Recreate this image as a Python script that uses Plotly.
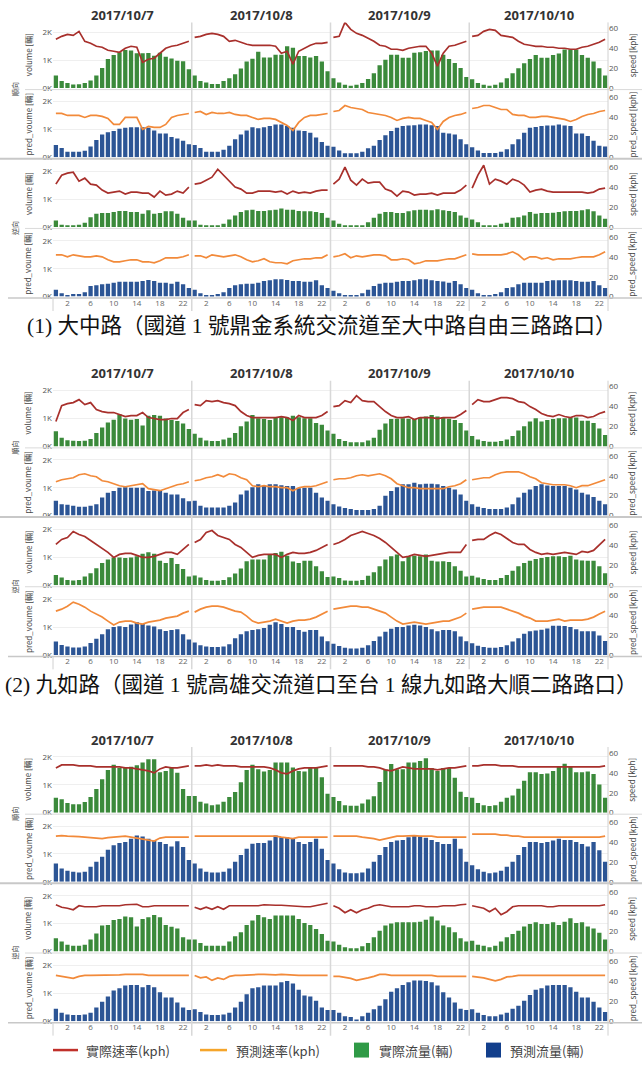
import plotly.graph_objects as go

W, H = 642, 1070

# ---------------------------------------------------------------- labels
dates = ["2017/10/7", "2017/10/8", "2017/10/9", "2017/10/10"]
hours = list(range(24))
tick_hours = [2, 6, 10, 14, 18, 22]
vol_tick_vals = [0, 1000, 2000]
vol_tick_text = ["0K", "1K", "2K"]
spd_tick_vals = [0, 20, 40, 60]
directions = ["順向", "逆向"]
vol_titles = ["volume [輛]", "pred_voume [輛]"]
spd_titles = ["speed [kph]", "pred_speed [kph]"]
captions = [
    "(1) 大中路（國道 1 號鼎金系統交流道至大中路自由三路路口）",
    "(2) 九如路（國道 1 號高雄交流道口至台 1 線九如路大順二路路口）",
]
legend_labels = ["實際速率(kph)", "預測速率(kph)", "實際流量(輛)", "預測流量(輛)"]

# ---------------------------------------------------------------- 大中路
dazhong_fwd_volume = [
    [450, 250, 180, 130, 140, 180, 270, 450, 720, 1040, 1190, 1290, 1370, 1350, 1250, 1250, 1260, 1160, 1270, 1120, 1060, 980, 960, 680],
    [450, 250, 200, 150, 150, 250, 350, 500, 700, 950, 1050, 1300, 1100, 1100, 1200, 1200, 1500, 1450, 1150, 1150, 1100, 1150, 950, 600],
    [350, 200, 120, 80, 120, 180, 330, 530, 820, 1020, 1200, 1200, 1090, 1090, 1270, 1290, 1330, 1350, 1350, 1200, 1040, 900, 720, 400],
    [320, 180, 120, 80, 120, 200, 350, 530, 710, 890, 1040, 1190, 1090, 1090, 1190, 1240, 1380, 1380, 1380, 1190, 1090, 950, 710, 450],
]
dazhong_fwd_speed = [
    [49, 52, 54, 53, 57, 47, 45, 42, 41, 38, 37, 36, 40, 42, 41, 26, 29, 30, 35, 40, 42, 43, 45, 47],
    [51, 52, 54, 55, 54, 52, 47, 48, 46, 44, 43, 43, 43, 43, 42, 35, 37, 24, 37, 40, 43, 45, 45, 46],
    [51, 52, 66, 59, 55, 53, 50, 47, 43, 42, 39, 39, 38, 40, 41, 42, 42, 35, 22, 35, 42, 43, 45, 47],
    [52, 53, 57, 59, 58, 53, 52, 51, 47, 44, 43, 42, 42, 41, 41, 40, 40, 39, 39, 41, 42, 44, 46, 49],
]
dazhong_fwd_pred_volume = [
    [440, 330, 200, 200, 200, 230, 390, 620, 820, 900, 940, 1020, 1060, 1080, 1080, 1080, 1060, 960, 850, 850, 730, 670, 590, 470],
    [440, 330, 200, 200, 200, 270, 410, 650, 820, 960, 1080, 1040, 1080, 1120, 1180, 1180, 1120, 1060, 960, 940, 880, 710, 550, 410],
    [380, 240, 140, 140, 140, 200, 320, 410, 620, 790, 940, 1060, 1120, 1140, 1150, 1180, 1180, 1150, 1120, 880, 850, 820, 650, 470],
    [360, 240, 150, 150, 150, 200, 290, 470, 650, 880, 1060, 1090, 1120, 1140, 1140, 1180, 1140, 1120, 850, 850, 760, 590, 410, 390],
]
dazhong_fwd_pred_speed = [
    [44, 44, 42, 42, 42, 40, 42, 42, 41, 39, 33, 33, 40, 40, 40, 28, 31, 30, 30, 33, 40, 42, 43, 44],
    [45, 46, 43, 45, 44, 44, 45, 43, 42, 42, 40, 38, 39, 39, 38, 35, 32, 27, 35, 40, 42, 42, 43, 44],
    [46, 47, 52, 50, 49, 48, 45, 44, 43, 42, 40, 37, 39, 40, 39, 39, 37, 35, 28, 36, 40, 42, 43, 45],
    [49, 50, 52, 52, 50, 48, 48, 43, 42, 42, 40, 40, 41, 41, 40, 39, 38, 36, 38, 41, 43, 44, 46, 47],
]
dazhong_rev_volume = [
    [230, 75, 50, 50, 75, 150, 350, 470, 500, 500, 540, 570, 570, 540, 540, 470, 600, 470, 500, 560, 560, 470, 330, 230],
    [230, 75, 25, 25, 50, 110, 270, 410, 540, 600, 620, 570, 570, 600, 620, 660, 620, 620, 570, 560, 560, 540, 500, 330],
    [230, 110, 25, 25, 25, 50, 170, 330, 470, 540, 540, 500, 500, 560, 600, 620, 620, 600, 630, 600, 570, 540, 410, 330],
    [270, 170, 50, 25, 50, 110, 150, 330, 350, 410, 540, 470, 500, 500, 510, 540, 560, 570, 570, 600, 630, 560, 410, 290],
]
dazhong_rev_speed = [
    [43, 52, 54, 55, 46, 49, 43, 42, 37, 34, 35, 36, 33, 35, 35, 34, 34, 30, 36, 32, 33, 36, 34, 40],
    [43, 44, 47, 50, 58, 52, 45, 40, 38, 34, 34, 36, 36, 36, 35, 36, 33, 36, 34, 35, 34, 36, 37, 37],
    [43, 48, 60, 47, 42, 48, 44, 45, 45, 38, 36, 31, 36, 35, 32, 33, 33, 34, 32, 34, 34, 34, 37, 42],
    [39, 52, 62, 43, 48, 46, 43, 48, 46, 42, 35, 37, 38, 36, 35, 35, 35, 35, 35, 35, 34, 35, 38, 39],
]
dazhong_rev_pred_volume = [
    [250, 125, 60, 90, 90, 160, 380, 410, 440, 460, 500, 530, 530, 530, 530, 560, 600, 560, 500, 500, 460, 530, 440, 310],
    [250, 125, 60, 60, 90, 160, 310, 410, 440, 460, 460, 500, 560, 590, 620, 620, 600, 560, 560, 530, 530, 590, 410, 310],
    [210, 125, 60, 60, 60, 125, 250, 380, 460, 500, 500, 530, 560, 560, 590, 620, 620, 590, 560, 540, 500, 560, 440, 310],
    [250, 125, 60, 60, 90, 160, 310, 340, 440, 500, 500, 500, 500, 560, 590, 590, 590, 590, 560, 530, 530, 560, 410, 310],
]
dazhong_rev_pred_speed = [
    [42, 42, 40, 42, 41, 40, 40, 41, 40, 37, 35, 35, 36, 37, 37, 35, 35, 34, 36, 39, 39, 39, 40, 42],
    [41, 41, 39, 42, 41, 40, 41, 42, 40, 37, 35, 36, 38, 35, 34, 34, 33, 36, 37, 38, 38, 39, 39, 42],
    [40, 41, 43, 39, 41, 40, 41, 42, 42, 41, 37, 37, 38, 37, 33, 34, 36, 36, 36, 37, 38, 38, 40, 42],
    [43, 42, 42, 42, 42, 42, 43, 45, 42, 37, 40, 40, 38, 39, 37, 38, 38, 38, 39, 40, 40, 40, 42, 45],
]

# ---------------------------------------------------------------- 九如路
jiuru_fwd_volume = [
    [540, 310, 220, 200, 190, 200, 270, 480, 680, 860, 960, 1150, 1000, 960, 980, 750, 1100, 1130, 1100, 1000, 950, 910, 820, 620],
    [450, 310, 210, 190, 190, 250, 310, 480, 720, 890, 1130, 1010, 980, 950, 1050, 1050, 1050, 1100, 1050, 1010, 1010, 840, 780, 570],
    [450, 270, 190, 150, 150, 150, 210, 310, 600, 820, 980, 990, 1010, 990, 980, 1040, 1070, 1130, 1070, 1040, 990, 950, 840, 570],
    [370, 250, 190, 170, 170, 190, 250, 370, 570, 720, 890, 1010, 890, 950, 980, 1010, 1010, 1040, 1040, 920, 920, 840, 640, 410],
]
jiuru_fwd_speed = [
    [25, 41, 43, 44, 47, 42, 44, 37, 35, 34, 34, 32, 30, 31, 31, 34, 29, 28, 27, 27, 28, 28, 34, 37],
    [42, 41, 46, 45, 46, 44, 43, 41, 35, 31, 29, 29, 29, 29, 29, 30, 29, 26, 31, 29, 29, 29, 31, 35],
    [40, 41, 46, 44, 51, 46, 45, 45, 40, 35, 31, 29, 29, 30, 27, 29, 29, 29, 28, 29, 29, 29, 32, 36],
    [42, 47, 45, 45, 47, 49, 49, 48, 45, 44, 40, 37, 33, 31, 30, 32, 30, 29, 31, 31, 29, 30, 33, 35],
]
jiuru_fwd_pred_volume = [
    [530, 410, 390, 350, 320, 320, 350, 410, 650, 820, 880, 1000, 1020, 1000, 1000, 1000, 880, 900, 900, 820, 760, 760, 620, 510],
    [530, 350, 290, 290, 290, 290, 350, 470, 760, 900, 1020, 1120, 1060, 1120, 1120, 1090, 1060, 1060, 980, 1000, 1000, 820, 650, 530],
    [410, 330, 270, 240, 200, 200, 200, 240, 350, 710, 880, 1020, 1120, 1120, 1180, 1120, 1140, 1140, 1120, 1060, 1000, 940, 760, 530],
    [410, 320, 270, 240, 240, 240, 290, 410, 650, 820, 940, 1060, 1120, 1080, 1060, 1060, 1060, 1000, 940, 820, 760, 670, 530, 410],
]
jiuru_fwd_pred_speed = [
    [34, 36, 37, 38, 41, 42, 40, 39, 35, 34, 32, 30, 29, 30, 31, 32, 27, 26, 25, 27, 29, 31, 32, 34],
    [35, 36, 38, 39, 41, 39, 42, 41, 38, 36, 30, 29, 30, 29, 29, 28, 28, 25, 28, 29, 29, 30, 32, 34],
    [36, 37, 37, 38, 40, 41, 40, 41, 42, 40, 37, 32, 30, 28, 28, 27, 27, 27, 27, 27, 29, 30, 32, 36],
    [36, 37, 38, 38, 41, 43, 44, 44, 44, 42, 39, 37, 33, 32, 31, 31, 31, 30, 28, 30, 30, 32, 34, 36],
]
jiuru_rev_volume = [
    [370, 280, 190, 170, 190, 310, 430, 610, 800, 920, 1000, 1000, 980, 1000, 1040, 1130, 1180, 1130, 880, 800, 980, 760, 580, 310],
    [350, 280, 190, 160, 160, 190, 290, 420, 600, 860, 920, 920, 920, 1100, 1160, 1200, 1060, 850, 800, 880, 880, 680, 500, 300],
    [310, 260, 170, 160, 160, 190, 340, 470, 680, 920, 1040, 1100, 860, 1040, 1060, 1040, 1100, 880, 850, 860, 830, 680, 520, 310],
    [340, 280, 220, 190, 190, 260, 370, 520, 680, 800, 880, 940, 980, 1010, 1040, 1040, 1010, 1060, 920, 890, 880, 880, 680, 430],
]
jiuru_rev_speed = [
    [41, 46, 48, 54, 51, 49, 45, 41, 37, 33, 28, 31, 32, 32, 30, 28, 28, 29, 31, 33, 33, 31, 36, 41],
    [43, 46, 53, 55, 50, 48, 46, 41, 38, 33, 28, 30, 31, 31, 31, 28, 31, 33, 32, 32, 33, 35, 38, 41],
    [41, 43, 46, 50, 52, 54, 52, 50, 47, 43, 38, 33, 28, 29, 31, 30, 29, 30, 31, 32, 33, 33, 33, 41],
    [45, 46, 46, 50, 53, 51, 47, 43, 41, 41, 36, 33, 31, 32, 31, 32, 33, 32, 31, 34, 33, 35, 41, 46],
]
jiuru_rev_pred_volume = [
    [480, 360, 300, 270, 270, 300, 430, 580, 740, 920, 1000, 1030, 1000, 1090, 1170, 1110, 1060, 1020, 920, 860, 890, 920, 740, 550],
    [450, 350, 300, 280, 280, 300, 380, 600, 740, 850, 890, 920, 970, 1080, 1170, 1110, 1000, 1000, 890, 830, 890, 890, 660, 490],
    [400, 320, 260, 230, 230, 260, 350, 500, 660, 830, 940, 1000, 1000, 1060, 1080, 1060, 1000, 920, 850, 890, 890, 850, 660, 490],
    [420, 330, 280, 260, 260, 280, 350, 480, 600, 760, 850, 880, 900, 950, 1050, 1050, 1040, 1000, 920, 850, 850, 850, 700, 500],
]
jiuru_rev_pred_speed = [
    [44, 46, 49, 53, 51, 48, 44, 41, 38, 34, 30, 33, 34, 34, 32, 31, 33, 34, 35, 37, 38, 39, 42, 44],
    [43, 46, 48, 49, 49, 48, 46, 44, 43, 39, 34, 32, 33, 34, 36, 34, 32, 34, 35, 35, 36, 38, 41, 44],
    [46, 47, 48, 49, 49, 48, 48, 46, 44, 42, 38, 34, 31, 32, 33, 32, 31, 32, 33, 34, 34, 36, 38, 42],
    [46, 47, 48, 48, 48, 48, 46, 44, 42, 39, 37, 34, 34, 34, 35, 36, 34, 35, 35, 35, 36, 38, 41, 44],
]

# ---------------------------------------------------------------- 第三路段
road3_fwd_volume = [
    [540, 480, 350, 300, 300, 380, 560, 850, 1200, 1530, 1720, 1600, 1600, 1650, 1700, 1800, 1920, 1920, 1450, 1500, 1620, 1430, 850, 600],
    [600, 390, 330, 270, 290, 390, 560, 740, 1090, 1530, 1720, 1560, 1480, 1530, 1800, 1800, 1800, 1620, 1500, 1480, 1600, 1600, 1270, 680],
    [560, 420, 270, 250, 250, 330, 470, 590, 1100, 1550, 1750, 1560, 1560, 1800, 1800, 1850, 1950, 1600, 1500, 1600, 1600, 1250, 750, 560],
    [540, 350, 270, 240, 270, 390, 540, 620, 860, 1150, 1450, 1450, 1390, 1410, 1500, 1650, 1760, 1650, 1450, 1450, 1480, 1390, 1010, 540],
]
road3_fwd_speed = [
    [45, 48, 48, 48, 47, 47, 47, 46, 46, 46, 46, 46, 45, 45, 44, 43, 42, 40, 44, 46, 45, 45, 46, 47],
    [47, 47, 48, 47, 48, 47, 47, 47, 46, 46, 46, 46, 46, 45, 43, 40, 39, 42, 44, 45, 45, 45, 46, 47],
    [47, 47, 47, 47, 47, 47, 46, 46, 45, 43, 42, 44, 46, 45, 44, 44, 44, 44, 43, 44, 45, 45, 46, 47],
    [47, 47, 48, 48, 48, 47, 47, 47, 46, 46, 46, 46, 46, 46, 46, 46, 46, 46, 46, 46, 46, 46, 46, 47],
]
road3_fwd_pred_volume = [
    [660, 480, 400, 360, 340, 360, 540, 720, 900, 1150, 1310, 1390, 1430, 1550, 1660, 1630, 1550, 1480, 1430, 1360, 1270, 1460, 1250, 780],
    [660, 480, 360, 340, 340, 360, 480, 720, 960, 1190, 1370, 1390, 1390, 1480, 1660, 1600, 1600, 1550, 1430, 1360, 1430, 1550, 1190, 780],
    [660, 450, 340, 310, 310, 340, 480, 720, 960, 1250, 1430, 1480, 1500, 1600, 1660, 1630, 1580, 1500, 1430, 1360, 1360, 1550, 1190, 720],
    [600, 450, 360, 310, 340, 400, 540, 720, 960, 1250, 1430, 1430, 1390, 1430, 1480, 1550, 1500, 1500, 1430, 1360, 1270, 1430, 1130, 720],
]
road3_fwd_pred_speed = [
    [46, 46.5, 46, 46, 45.5, 45, 44.5, 43.5, 43.5, 44.5, 45, 46, 46, 45, 44, 43.5, 42, 41, 44, 45, 45, 45, 45, 45],
    [46, 46, 46, 46, 46, 46, 46, 46, 46, 46, 46, 46, 46, 46, 46, 45, 44, 43.5, 45, 45, 45, 45, 45, 45],
    [46, 46, 46, 46, 46, 45, 44.5, 43.5, 42, 43.5, 45, 46, 46, 46.5, 46.5, 46, 46, 46, 45, 45, 45, 45, 45, 45],
    [48, 48, 48.5, 48.5, 48, 47, 47, 46, 46, 45, 45, 45, 45, 45, 45, 45, 45, 45, 45, 45, 45, 45, 45, 46],
]
road3_rev_volume = [
    [480, 360, 240, 210, 210, 240, 430, 650, 930, 950, 1130, 1170, 1260, 1230, 900, 1170, 1230, 1310, 1230, 950, 890, 830, 510, 430],
    [430, 310, 210, 210, 210, 210, 360, 550, 690, 950, 1110, 1310, 1230, 1170, 1290, 1290, 1290, 1290, 1170, 1020, 950, 810, 630, 390],
    [360, 240, 150, 120, 120, 190, 310, 510, 750, 930, 1010, 1050, 1050, 1050, 1050, 1070, 1140, 1260, 1110, 930, 870, 690, 480, 360],
    [390, 240, 210, 150, 210, 360, 510, 630, 750, 900, 990, 1050, 990, 990, 1050, 950, 1070, 1190, 1020, 1050, 900, 830, 670, 430],
]
road3_rev_speed = [
    [47, 44.5, 43.5, 42, 46, 45, 45, 45, 46, 46, 46, 46, 47, 47, 47.5, 45, 45, 46, 46, 46, 46, 46, 46, 46],
    [44.5, 42.5, 44.5, 42.5, 45, 42.5, 46, 46, 46, 46, 46, 46, 47, 46.5, 46.5, 46.5, 46, 46, 45, 45, 45, 46, 47, 48.5],
    [46, 43.5, 39, 42, 39, 42, 43.5, 46, 47, 46, 45, 45, 45, 45, 46, 46, 45, 45, 45, 46, 46, 46, 47, 47.5],
    [46, 44.5, 43.5, 40, 43.5, 37, 40, 45, 46, 46, 46, 46, 46, 45, 45, 46, 46, 46, 46, 46, 46, 46, 46, 47],
]
road3_rev_pred_volume = [
    [450, 300, 240, 220, 220, 240, 300, 490, 700, 890, 1100, 1180, 1280, 1300, 1300, 1220, 1300, 1220, 1040, 850, 850, 670, 490, 400],
    [430, 330, 240, 220, 220, 240, 300, 490, 700, 970, 1180, 1220, 1280, 1280, 1280, 1400, 1440, 1350, 1130, 920, 890, 730, 490, 400],
    [400, 300, 180, 150, 40, 180, 300, 430, 550, 790, 1060, 1180, 1300, 1400, 1460, 1460, 1440, 1400, 1280, 1040, 850, 670, 450, 400],
    [430, 300, 220, 180, 180, 240, 300, 450, 550, 730, 940, 1130, 1180, 1280, 1300, 1300, 1300, 1220, 1060, 850, 850, 700, 490, 330],
]
road3_rev_pred_speed = [
    [46, 45, 44.5, 43, 45, 46, 46, 46, 46, 46, 46.5, 46.5, 47, 47, 47, 47, 46, 46, 46, 46, 46, 46, 46, 46],
    [46, 43.5, 44.5, 41, 43.5, 42, 45, 46, 46, 46.5, 47, 47, 47, 46.5, 46.5, 47, 46.5, 46, 46, 46, 46, 46, 46, 46],
    [45, 45, 44, 43, 41, 42, 43.5, 45, 47, 47, 46, 46, 46, 46, 46, 46, 46, 46, 45, 45, 45, 45, 45, 45],
    [45, 44.5, 43.5, 42, 40.5, 42, 44.5, 45, 46, 46, 46, 46, 46.5, 46.5, 46, 46, 46.5, 46, 46, 46, 46, 46, 46, 46],
]

# each block: four rows (actual / predicted for both directions)
blocks = [
    [(dazhong_fwd_volume, dazhong_fwd_speed), (dazhong_fwd_pred_volume, dazhong_fwd_pred_speed),
     (dazhong_rev_volume, dazhong_rev_speed), (dazhong_rev_pred_volume, dazhong_rev_pred_speed)],
    [(jiuru_fwd_volume, jiuru_fwd_speed), (jiuru_fwd_pred_volume, jiuru_fwd_pred_speed),
     (jiuru_rev_volume, jiuru_rev_speed), (jiuru_rev_pred_volume, jiuru_rev_pred_speed)],
    [(road3_fwd_volume, road3_fwd_speed), (road3_fwd_pred_volume, road3_fwd_pred_speed),
     (road3_rev_volume, road3_rev_speed), (road3_rev_pred_volume, road3_rev_pred_speed)],
]

# ---------------------------------------------------------------- styling
BAR_ACTUAL = "#3b8a3b"
BAR_PRED = "#2c5595"
LINE_ACTUAL = "#a8302c"
LINE_PRED = "#f28a3a"
LEG_RED, LEG_ORANGE, LEG_GREEN, LEG_BLUE = "#c0302a", "#f5a52a", "#2f9a46", "#123f8c"
SANS = "Open Sans, Noto Sans CJK TC, sans-serif"
CJK = "Noto Sans CJK TC, sans-serif"
SERIF = "Liberation Serif, Noto Sans CJK TC, serif"

PLOT_L, PLOT_R = 53, 608
COL_W = (PLOT_R - PLOT_L) / 4
BLOCK_SHIFT = [0, 360, 728]
ROW_BASE = [88.5, 158, 228, 298]
ROW_H = 66
PX_PER_K = 28
VOL_MAX = ROW_H / PX_PER_K * 1000
SPD_MAX = ROW_H


def fx(p):
    return p / W


def fy(p):
    return 1 - p / H


def axis_id(letter, n):
    return letter if n == 1 else f"{letter}{n}"


def label(x, y, text, size, family, color="#444", angle=0, anchor="center", **font_extra):
    return dict(x=fx(x), y=fy(y), xref="paper", yref="paper", text=text,
                xanchor=anchor, yanchor="middle", textangle=angle, showarrow=False,
                font=dict(family=family, size=size, color=color, **font_extra))


fig = go.Figure()
layout = {}
shapes = []
annotations = []

x_positions = [d * 24 + h for d in range(4) for h in hours]
tick_vals = [d * 24 + h for d in range(4) for h in tick_hours]
tick_text = [str(h) for d in range(4) for h in tick_hours]

k = 0
for b, block in enumerate(blocks):
    shift = BLOCK_SHIFT[b]
    for r, (vol, spd) in enumerate(block):
        k += 1
        pred = r % 2 == 1
        base = ROW_BASE[r] + shift
        top = base - ROW_H
        xid = axis_id("x", k)
        yid = axis_id("y", 2 * k - 1)
        y2id = axis_id("y", 2 * k)

        fig.add_trace(go.Bar(
            x=x_positions, y=[v for day in vol for v in day],
            xaxis=xid, yaxis=yid, width=0.74,
            marker=dict(color=BAR_PRED if pred else BAR_ACTUAL, line=dict(width=0)),
            showlegend=False, hoverinfo="skip"))

        lx, ly = [], []
        for d in range(4):
            lx += [d * 24 + h for h in hours] + [None]
            ly += list(spd[d]) + [None]
        fig.add_trace(go.Scatter(
            x=lx, y=ly, xaxis=xid, yaxis=y2id, mode="lines",
            line=dict(color=LINE_PRED if pred else LINE_ACTUAL, width=1.7),
            showlegend=False, hoverinfo="skip", connectgaps=False))

        bottom = r == 3
        layout["xaxis" + ("" if k == 1 else str(k))] = dict(
            domain=[fx(PLOT_L), fx(PLOT_R)], anchor=yid, range=[-0.5, 95.5],
            showgrid=False, zeroline=False, showline=False, ticks="",
            tickvals=tick_vals, ticktext=tick_text, showticklabels=bottom,
            tickfont=dict(family=SANS, size=8, color="#666"), fixedrange=True)
        layout["yaxis" + ("" if k == 1 else str(2 * k - 1))] = dict(
            domain=[fy(base), fy(top)], anchor=xid, range=[0, VOL_MAX],
            tickvals=vol_tick_vals, ticktext=vol_tick_text, ticks="",
            tickfont=dict(family=SANS, size=8, color="#555"),
            showgrid=True, gridcolor="#efefef", gridwidth=1,
            zeroline=False, showline=False, fixedrange=True)
        layout["yaxis" + str(2 * k)] = dict(
            overlaying=yid, anchor=xid, side="right", range=[0, SPD_MAX],
            tickvals=spd_tick_vals, ticks="",
            tickfont=dict(family=SANS, size=8, color="#555"),
            showgrid=False, zeroline=False, showline=False, fixedrange=True)

        mid = (base + top) / 2
        annotations.append(label(28, mid, vol_titles[r % 2], 8, CJK, angle=-90))
        annotations.append(label(632, mid, spd_titles[r % 2], 8, CJK, angle=-90))

        # horizontal separator under each row
        sep_y = base + 1.5
        if r == 1:
            x0, color, width = 0, "#c8c8c8", 2
        elif r == 3:
            x0, color, width = fx(PLOT_L - 45), "#c8c8c8", 1.5
        else:
            x0, color, width = fx(25), "#dadada", 1
        shapes.append(dict(type="line", xref="paper", yref="paper",
                           x0=x0, x1=1, y0=fy(sep_y), y1=fy(sep_y),
                           line=dict(color=color, width=width)))

    # direction labels beside each pair of rows
    for i, text in enumerate(directions):
        annotations.append(label(15, ROW_BASE[2 * i] + shift + 1, text, 7, CJK, angle=-90))

    # date headings
    for d, date in enumerate(dates):
        annotations.append(label(PLOT_L + COL_W * (d + 0.5), 15 + shift, date, 13, SANS,
                                 color="#333", weight="bold"))

    # day dividers
    panel_top = ROW_BASE[0] + shift - ROW_H
    panel_bot = ROW_BASE[3] + shift + 1.5
    tick_bot = panel_bot + 13
    for d in range(1, 4):
        xd = PLOT_L + COL_W * d
        shapes.append(dict(type="line", xref="paper", yref="paper",
                           x0=fx(xd), x1=fx(xd), y0=fy(panel_top), y1=fy(tick_bot),
                           line=dict(color="#d8d8d8", width=1.5)))
    shapes.append(dict(type="line", xref="paper", yref="paper",
                       x0=fx(PLOT_R), x1=fx(PLOT_R), y0=fy(panel_top), y1=fy(tick_bot),
                       line=dict(color="#d0d0d0", width=1)))
    shapes.append(dict(type="line", xref="paper", yref="paper",
                       x0=fx(PLOT_L), x1=fx(PLOT_L), y0=fy(panel_bot), y1=fy(tick_bot),
                       line=dict(color="#d0d0d0", width=1)))

# captions under the first two blocks
for i, cap in enumerate(captions):
    annotations.append(label(321, 328 + BLOCK_SHIFT[i], cap, 21.5, SERIF, color="#111"))

# legend row
LEG_Y = 1055
leg_items = [
    ("line", LEG_RED, 53, 78, 84),
    ("line", LEG_ORANGE, 200, 227, 234),
    ("box", LEG_GREEN, 354, 369, 377),
    ("box", LEG_BLUE, 486, 501, 508),
]
for (kind, color, x0, x1, tx), text in zip(leg_items, legend_labels):
    if kind == "line":
        shapes.append(dict(type="line", xref="paper", yref="paper",
                           x0=fx(x0), x1=fx(x1), y0=fy(LEG_Y), y1=fy(LEG_Y),
                           line=dict(color=color, width=2.5)))
    else:
        shapes.append(dict(type="rect", xref="paper", yref="paper",
                           x0=fx(x0), x1=fx(x1), y0=fy(LEG_Y + 7.5), y1=fy(LEG_Y - 7.5),
                           fillcolor=color, line=dict(width=0)))
    annotations.append(label(tx, LEG_Y, text, 13, CJK, anchor="left"))

layout.update(dict(
    width=W, height=H, margin=dict(l=0, r=0, t=0, b=0),
    paper_bgcolor="white", plot_bgcolor="white",
    showlegend=False, hovermode=False, bargap=0.2,
    shapes=shapes, annotations=annotations,
))
fig.update_layout(**layout)
fig.write_html("out.html")
